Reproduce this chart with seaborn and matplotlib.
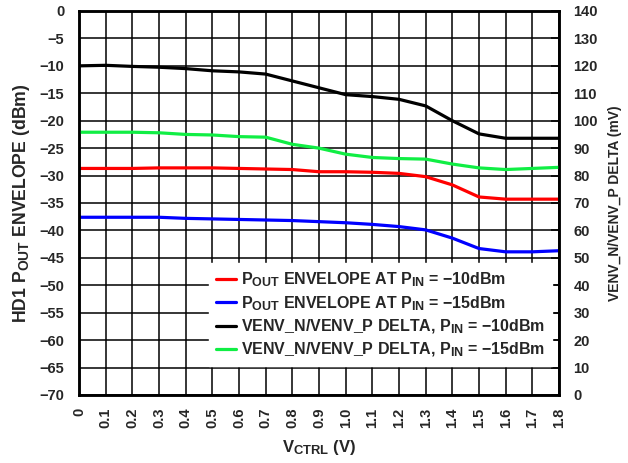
import matplotlib
matplotlib.use("Agg")
import matplotlib.pyplot as plt
import matplotlib._mathtext as _mt
import seaborn as sns
import pandas as pd

sns.set_theme(style="white")
plt.rcParams['font.family'] = ['Liberation Sans', 'DejaVu Sans']
plt.rcParams['font.weight'] = 'bold'
plt.rcParams['mathtext.fontset'] = 'custom'
plt.rcParams['mathtext.rm'] = 'Liberation Sans:bold'
plt.rcParams['mathtext.bf'] = 'Liberation Sans:bold'
plt.rcParams['mathtext.it'] = 'Liberation Sans:bold'
_mt.SHRINK_FACTOR = 0.78

vctrl = [0.0, 0.1, 0.2, 0.3, 0.4, 0.5, 0.6, 0.7, 0.8, 0.9,
         1.0, 1.1, 1.2, 1.3, 1.4, 1.5, 1.6, 1.7, 1.8]
xtick_labels = ['0', '0.1', '0.2', '0.3', '0.4', '0.5', '0.6', '0.7', '0.8', '0.9',
                '1.0', '1.1', '1.2', '1.3', '1.4', '1.5', '1.6', '1.7', '1.8']
left_ticks = [-70, -65, -60, -55, -50, -45, -40, -35, -30, -25, -20, -15, -10, -5, 0]
left_tick_labels = ['−70', '−65', '−60', '−55', '−50', '−45', '−40', '−35', '−30',
                    '−25', '−20', '−15', '−10', '−5', '0']
right_ticks = [0, 10, 20, 30, 40, 50, 60, 70, 80, 90, 100, 110, 120, 130, 140]

# Left axis (dBm)
pout_10 = [-28.7, -28.7, -28.7, -28.6, -28.6, -28.6, -28.7, -28.8, -28.9, -29.3,
           -29.3, -29.4, -29.6, -30.2, -31.7, -33.9, -34.3, -34.3, -34.3]
pout_15 = [-37.6, -37.6, -37.6, -37.6, -37.8, -37.9, -38.0, -38.1, -38.2, -38.4,
           -38.6, -38.9, -39.3, -39.9, -41.4, -43.3, -43.9, -43.9, -43.7]
# Right axis (mV)
delta_10 = [120.0, 120.2, 119.8, 119.5, 119.0, 118.2, 117.8, 117.0, 114.5, 112.0,
            109.5, 108.8, 107.8, 105.4, 100.0, 95.2, 93.6, 93.6, 93.6]
delta_15 = [95.8, 95.8, 95.8, 95.6, 95.0, 94.8, 94.2, 94.0, 91.4, 90.0,
            87.8, 86.6, 86.2, 86.0, 84.2, 82.8, 82.2, 82.6, 83.0]

labels = [r'P$_{\mathrm{OUT}}$ ENVELOPE AT P$_{\mathrm{IN}}$ = −10dBm',
          r'P$_{\mathrm{OUT}}$ ENVELOPE AT P$_{\mathrm{IN}}$ = −15dBm',
          r'VENV_N/VENV_P DELTA, P$_{\mathrm{IN}}$ = −10dBm',
          r'VENV_N/VENV_P DELTA, P$_{\mathrm{IN}}$ = −15dBm']
colors = ['#FF0000', '#0000FF', '#000000', '#10EE44']

fig = plt.figure(figsize=(6.28, 4.63), dpi=100)
ax = fig.add_axes([79/628, 1 - 395/463, 480/628, 384/463])
ax2 = ax.twinx()

df_l = pd.DataFrame({'x': vctrl, 'a': pout_10, 'b': pout_15})
df_r = pd.DataFrame({'x': vctrl, 'c': delta_10, 'd': delta_15})
lw = 2.3
sns.lineplot(data=df_l, x='x', y='a', ax=ax, color=colors[0], lw=lw, label=labels[0], legend=False)
sns.lineplot(data=df_l, x='x', y='b', ax=ax, color=colors[1], lw=lw, label=labels[1], legend=False)
sns.lineplot(data=df_r, x='x', y='c', ax=ax2, color=colors[2], lw=lw, label=labels[2], legend=False)
sns.lineplot(data=df_r, x='x', y='d', ax=ax2, color=colors[3], lw=lw, label=labels[3], legend=False)

ax.set_xlim(0, 1.8)
ax.set_ylim(-70, 0)
ax2.set_ylim(0, 140)
ax.set_xticks(vctrl)
ax.set_xticklabels(xtick_labels, rotation=90, fontsize=10.5, fontweight='bold')
ax.set_yticks(left_ticks)
ax.set_yticklabels(left_tick_labels, fontsize=10.5, fontweight='bold')
ax2.set_yticks(right_ticks)
ax2.set_yticklabels([str(v) for v in right_ticks], fontsize=10.5, fontweight='bold')

ax.grid(True, color='black', lw=1.1)
ax.tick_params(axis='both', length=0)
ax.tick_params(axis='y', pad=10.5)
ax.tick_params(axis='x', pad=9)
ax2.tick_params(axis='y', direction='in', length=6, width=1.1, color='black', pad=10.5)
for a in (ax, ax2):
    for s in a.spines.values():
        s.set_color('black')
        s.set_linewidth(1.8)

ax.set_xlabel(r'V$_{\mathrm{CTRL}}$ (V)', fontsize=12, fontweight='bold', labelpad=7)
ax.set_ylabel(r'HD1 P$_{\mathrm{OUT}}$ ENVELOPE (dBm)', fontsize=12.7, fontweight='bold', labelpad=5)
ax2.set_ylabel('VENV_N/VENV_P DELTA (mV)', fontsize=10, fontweight='bold', labelpad=7)

h1, l1 = ax.get_legend_handles_labels()
h2, l2 = ax2.get_legend_handles_labels()
leg = ax2.legend(h1 + h2, l1 + l2, loc='lower right', bbox_to_anchor=(0.985, 0.075),
                 frameon=True, fancybox=False, framealpha=1, edgecolor='white',
                 facecolor='white', fontsize=11.5, handlelength=1.25, handletextpad=0.3,
                 labelspacing=0.3, borderpad=0.45, borderaxespad=0)
for t in leg.get_texts():
    t.set_fontweight('bold')

fig.savefig('out.png', dpi=100)
